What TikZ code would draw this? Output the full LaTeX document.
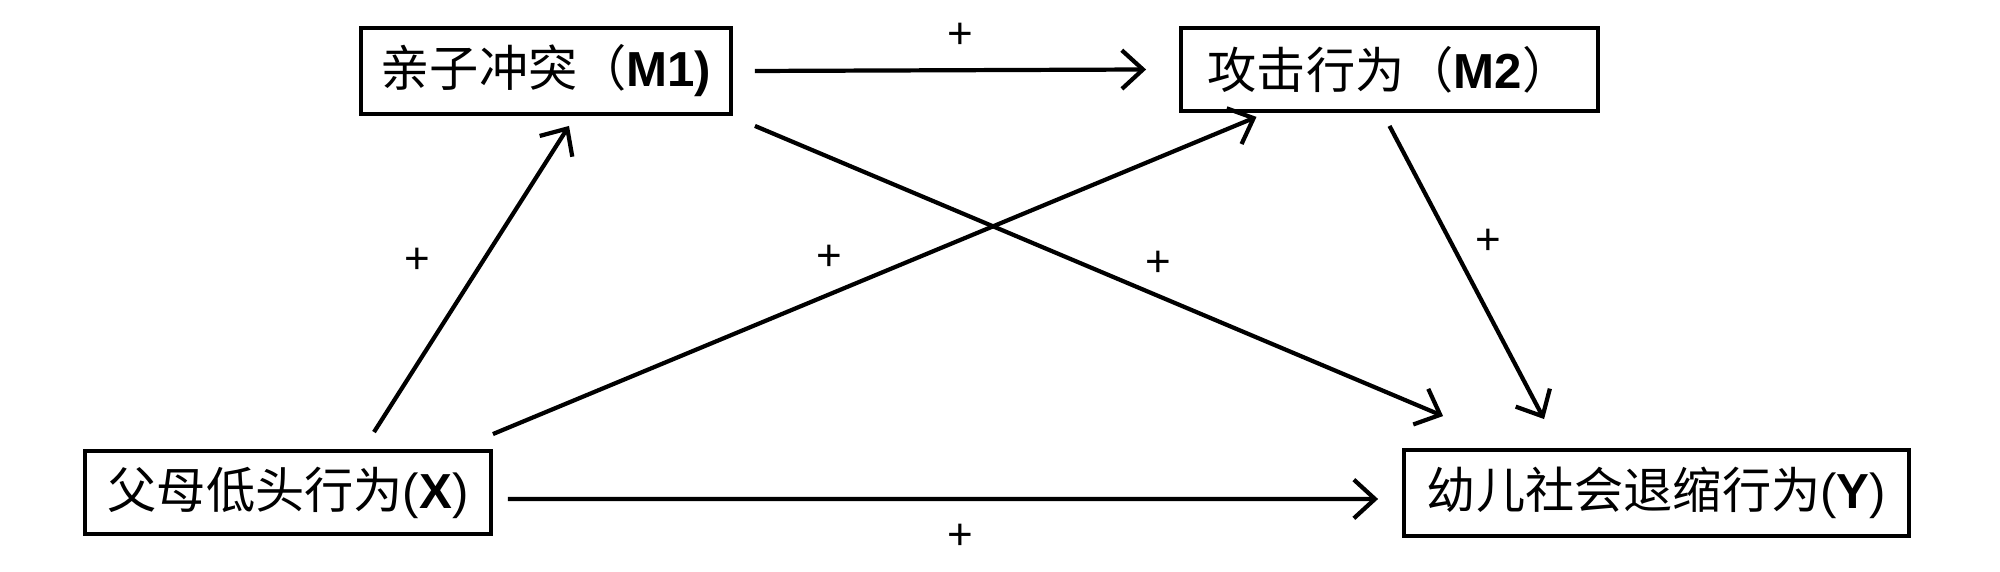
\documentclass[tikz,border=0pt]{standalone}
\usepackage{fontspec}
\setmainfont{Liberation Sans}
\newfontfamily\cjk{Noto Sans CJK SC}
\usetikzlibrary{arrows.meta}
\begin{document}
\begin{tikzpicture}[
  box/.style={draw=black, line width=1.1pt, inner sep=0pt, font=\fontsize{14}{16}\selectfont},
  arr/.style={line width=1.2pt, -{Straight Barb[length=6pt,width=11pt,line width=1.2pt]}},
  sign/.style={font=\fontsize{12.5}{14}\selectfont, inner sep=0pt}
]
\useasboundingbox (0,0) rectangle (20,5.72);
\node[box, minimum width=3.70cm, minimum height=0.86cm] (M1) at (5.46,5.01) {{\cjk 亲子冲突（}\textbf{M1)}};
\node[box, minimum width=4.17cm, minimum height=0.83cm] (M2) at (13.895,5.025) {{\cjk 攻击行为（}\textbf{M2}{\cjk ）}};
\node[box, minimum width=4.06cm, minimum height=0.83cm] (X) at (2.88,0.795) {{\cjk 父母低头行为}(\textbf{X})};
\node[box, minimum width=5.05cm, minimum height=0.86cm] (Y) at (16.565,0.79) {{\cjk 幼儿社会退缩行为}(\textbf{Y})};

\draw[arr] ([shift={(0.22,0)}]M1.east) -- ([shift={(-0.33,0)}]M2.west);
\draw[arr] ([shift={(0.86,0.17)}]X.north) -- ([shift={(0.23,-0.10)}]M1.south);
\draw[arr] ([shift={(0,0.15)}]X.north east) -- ([shift={(-1.33,-0.04)}]M2.south);
\draw[arr] ([shift={(0.22,-0.10)}]M1.south east) -- ([shift={(0.41,0.32)}]Y.north west);
\draw[arr] ([shift={(0,-0.13)}]M2.south) -- ([shift={(1.42,0.29)}]Y.north west);
\draw[arr] ([shift={(0.15,-0.065)}]X.east) -- ([shift={(-0.24,-0.06)}]Y.west);

\node[sign] (s1) at (9.60,5.36) {+};
\node[sign] (s2) at (4.17,3.11) {+};
\node[sign] (s3) at (8.29,3.14) {+};
\node[sign] (s4) at (11.58,3.08) {+};
\node[sign] (s5) at (14.88,3.30) {+};
\node[sign] (s6) at (9.60,0.35) {+};
\end{tikzpicture}
\end{document}
